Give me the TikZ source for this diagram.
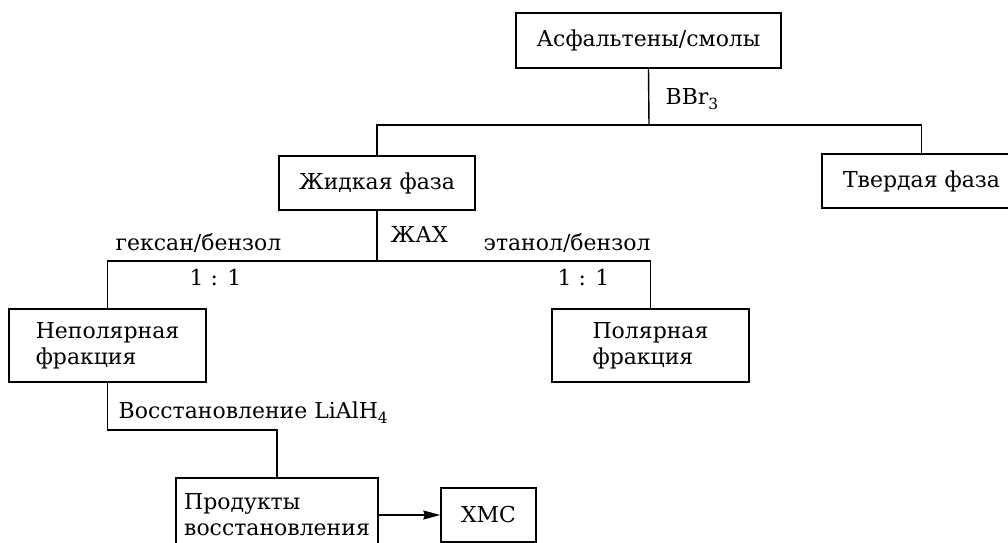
\documentclass[tikz,border=0pt]{standalone}
\usepackage{fontspec}
\setmainfont{DejaVu Serif}
\usetikzlibrary{arrows.meta, positioning}

\begin{document}
\begin{tikzpicture}[
    x=0.02cm, y=-0.02cm,
    line width=0.8pt,
    font=\fontsize{12.5}{14.8}\selectfont,
    box/.style={rectangle, draw, inner sep=0pt, minimum height=1.08cm, align=left},
    tallbox/.style={box, minimum height=1.46cm},
    lbl/.style={inner sep=0pt, anchor=base west},
    arrow/.style={-{Stealth[length=3.4mm, width=1.8mm, inset=0.3mm]}}
]
\useasboundingbox (0,0) rectangle (1008,543);

\node[box, minimum width=5.3cm, minimum height=1.1cm] (asph) at (648.5,40.5) {Асфальтены/смолы};
\node[box, minimum width=3.92cm] (liq) at (377,183) {Жидкая фаза};
\node[box, minimum width=3.98cm] (solid) at (921.5,181) {Твердая фаза};
\node[tallbox, minimum width=3.94cm] (nonpol) at (107.5,345.5) {Неполярная\\фракция};
\node[tallbox, minimum width=3.94cm] (pol) at (650.5,345.5) {Полярная\\фракция};
\node[tallbox, minimum width=4.04cm, minimum height=1.48cm] (prod) at (277,515) {Продукты\\восстановления};
\node[box, minimum width=1.9cm] (xmc) at (488.5,515) {ХМС};

\coordinate (j1) at (649,125);
\coordinate (j2) at (377,261);
\coordinate (j3) at (107,430);

\node[lbl] (bbr) at (665,105) {BBr\textsubscript{3}};
\node[lbl] (zhax) at (390,243) {ЖАХ};
\node[lbl] (hex) at (115,251) {гексан/бензол};
\node[lbl] (eth) at (483,251) {этанол/бензол};
\node[lbl] (r1) at (189,286) {1 : 1};
\node[lbl] (r2) at (557,286) {1 : 1};
\node[lbl] (red) at (118,419) {Восстановление LiAlH\textsubscript{4}};

\draw (asph.south) -- (j1);
\draw (liq.north) |- (j1) -| (solid.north);
\draw (liq.south) -- (j2);
\draw (nonpol.north) |- (j2) -| (pol.north);
\draw (nonpol.south) |- (j3) -| (prod.north);
\draw[arrow] (prod.east) -- (xmc.west);
\end{tikzpicture}
\end{document}
